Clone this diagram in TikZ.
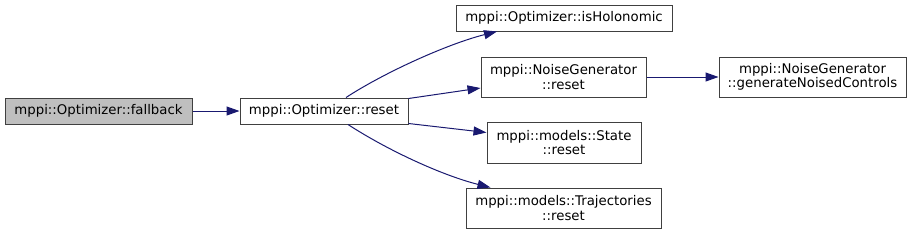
\documentclass[tikz,border=0pt]{standalone}
\usepackage{fontspec}
\setmainfont{DejaVu Sans}
\usepackage{tikz}
\usetikzlibrary{arrows.meta,calc}

\definecolor{edgeblue}{HTML}{191970}
\definecolor{boxline}{HTML}{404040}
\definecolor{curfill}{HTML}{BFBFBF}

\begin{document}
\begin{tikzpicture}[x=1pt, y=-1pt,
    every node/.style={font=\fontsize{13.3}{14.6}\selectfont},
    fn/.style={draw=boxline, line width=1pt, fill=white, inner sep=0pt, align=center},
    edge/.style={draw=edgeblue, line width=1pt, -{Triangle[length=13pt,width=9pt]}}]
  \useasboundingbox (0,0) rectangle (912,234);
  % callers and callees
  \node[fn, fill=curfill, minimum width=187pt, minimum height=26pt] (fallback) at (98.5,111) {mppi::Optimizer::fallback};
  \node[fn, minimum width=168pt, minimum height=26pt] (reset) at (324,111) {mppi::Optimizer::reset};
  \node[fn, minimum width=216pt, minimum height=26pt] (isHol) at (564,18) {mppi::Optimizer::isHolonomic};
  \node[fn, minimum width=165pt, minimum height=40pt] (ngReset) at (563.5,77) {mppi::NoiseGenerator\\::reset};
  \node[fn, minimum width=154pt, minimum height=41pt] (stReset) at (564,142.5) {mppi::models::State\\::reset};
  \node[fn, minimum width=195pt, minimum height=40pt] (trReset) at (563.5,208) {mppi::models::Trajectories\\::reset};
  \node[fn, minimum width=187pt, minimum height=40pt] (genCtrl) at (812.5,77) {mppi::NoiseGenerator\\::generateNoisedControls};
  % calls
  \draw[edge] (fallback.east) -- (reset.west);
  \draw[edge] ([xshift=22pt]reset.north) .. controls +(40,-26) and +(-48,12) .. ([xshift=-67pt]isHol.south);
  \draw[edge] ([yshift=-1pt]reset.north east) -- ([yshift=-11pt]ngReset.west);
  \draw[edge] ([yshift=1pt]reset.south east) -- ([yshift=10pt]stReset.west);
  \draw[edge] ([xshift=24pt]reset.south) .. controls +(40,26) and +(-48,-12) .. ([xshift=-73pt]trReset.north);
  \draw[edge] (ngReset.east) -- (genCtrl.west);
\end{tikzpicture}
\end{document}
